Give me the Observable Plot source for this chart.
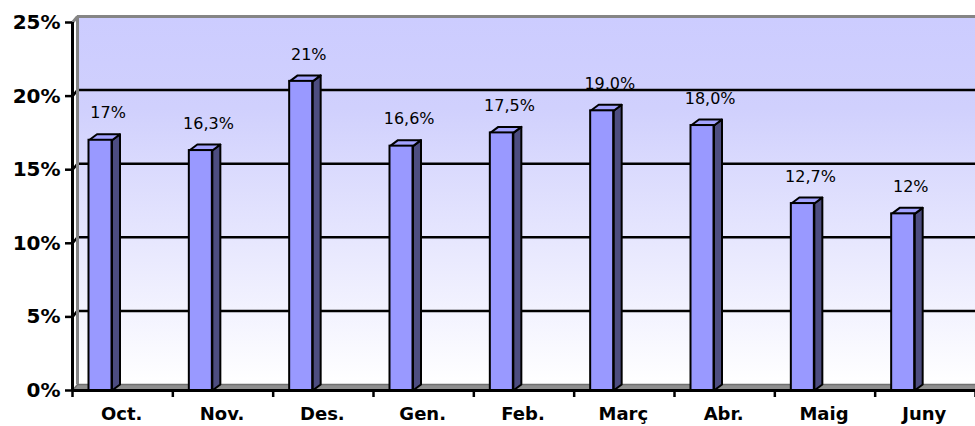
<!DOCTYPE html>
<html><head><meta charset="utf-8">
<script src="https://cdn.jsdelivr.net/npm/d3@7"></script>
<script src="https://cdn.jsdelivr.net/npm/@observablehq/plot@0.6"></script>
<style>body{margin:0;background:#fff}</style>
</head><body><div id="chart"></div>
<script>
const months = ["Oct.", "Nov.", "Des.", "Gen.", "Feb.", "Març", "Abr.", "Maig", "Juny"];
const values = [17, 16.3, 21, 16.6, 17.5, 19.0, 18.0, 12.7, 12];
const valueLabels = ["17%", "16,3%", "21%", "16,6%", "17,5%", "19,0%", "18,0%", "12,7%", "12%"];
const yTicks = [0, 5, 10, 15, 20, 25];
const gridTicks = [5, 10, 15, 20];

const W = 975, H = 426, mL = 72, mR = 0, mT = 22, mB = 36;
const n = months.length;
const ux = n / (W - mL - mR), uy = 25 / (H - mT - mB);
const wallDX = 5 * ux, wallDY = 6 * uy;
const barOff = 16.5 * ux, barW = 23 * ux, depX = 8 * ux, depY = 6 * uy;

const bars = values.map((v, i) => ({i, v, x0: i + barOff, x1: i + barOff + barW}));
const poly = (id, pts) => pts.concat([pts[0]]).map(([x, y]) => ({id, x, y}));
const sidePts = bars.flatMap(b => poly(b.i, [[b.x1, 0], [b.x1, b.v], [b.x1 + depX, b.v + depY], [b.x1 + depX, depY]]));
const topPts = bars.flatMap(b => poly(b.i, [[b.x0, b.v], [b.x1, b.v], [b.x1 + depX, b.v + depY], [b.x0 + depX, b.v + depY]]));
const floorPts = poly(0, [[0, 0], [n, 0], [n + wallDX, wallDY], [wallDX, wallDY]]);

const chart = Plot.plot({
  width: W, height: H,
  marginLeft: mL, marginRight: mR, marginTop: mT, marginBottom: mB,
  x: {type: "linear", domain: [0, n], axis: null},
  y: {domain: [0, 25], axis: null},
  style: {fontFamily: "DejaVu Sans", background: "white", overflow: "visible", color: "black"},
  marks: [
    // back wall
    Plot.rect([0], {x1: 0, x2: n, y1: 0, y2: 25, dx: 5, dy: -6, fill: "url(#wallGrad)"}),
    // floor
    Plot.line(floorPts, {x: "x", y: "y", z: "id", fill: "#8f8f8f", stroke: "#707070", strokeWidth: 1.5}),
    // gridlines on wall
    Plot.ruleY(gridTicks, {x1: 0, x2: n, dx: 5, dy: -6, stroke: "black", strokeWidth: 2.5}),
    Plot.link(gridTicks, {x1: 0, y1: d => d, x2: wallDX, y2: d => d + wallDY, stroke: "black", strokeWidth: 2.5}),
    // wall border
    Plot.ruleY([25], {x1: 0, x2: n, dx: 5, dy: -6, stroke: "#858585", strokeWidth: 3}),
    Plot.ruleX([0], {y1: 0, y2: 25, dx: 5, dy: -6, stroke: "#858585", strokeWidth: 3}),
    Plot.link([25], {x1: 0, y1: d => d, x2: wallDX, y2: d => d + wallDY, stroke: "#858585", strokeWidth: 3}),
    // bars: side, top, front
    Plot.line(sidePts, {x: "x", y: "y", z: "id", fill: "#4d4d80", stroke: "black", strokeWidth: 2, strokeLinejoin: "round"}),
    Plot.line(topPts, {x: "x", y: "y", z: "id", fill: "#a3a3ff", stroke: "black", strokeWidth: 2, strokeLinejoin: "round"}),
    Plot.rect(bars, {x1: "x0", x2: "x1", y1: 0, y2: "v", fill: "#9999ff", stroke: "black", strokeWidth: 2}),
    // axes
    Plot.ruleX([0], {y1: 0, y2: 25, stroke: "black", strokeWidth: 3}),
    Plot.ruleY([0], {x1: 0, x2: n, stroke: "black", strokeWidth: 3}),
    Plot.ruleY(yTicks, {x1: 0, x2: -7 * ux, stroke: "black", strokeWidth: 2.5}),
    Plot.ruleX(d3.range(n + 1), {y1: 0, y2: -7 * uy, stroke: "black", strokeWidth: 2.5}),
    Plot.text(yTicks, {x: 0, y: d => d, text: d => d + "%", dx: -12, textAnchor: "end", fontWeight: "bold", fontSize: 20}),
    Plot.text(months, {x: (d, i) => i + 0.49, y: 0, text: d => d, dy: 24, fontWeight: "bold", fontSize: 18}),
    // value labels
    Plot.text(values, {x: (d, i) => i + 0.355, y: d => d, text: (d, i) => valueLabels[i], dy: -27, fontSize: 16})
  ]
});

const defs = d3.select(chart).insert("defs", ":first-child");
const grad = defs.append("linearGradient").attr("id", "wallGrad")
  .attr("x1", 0).attr("y1", 0).attr("x2", 0).attr("y2", 1);
grad.append("stop").attr("offset", "0%").attr("stop-color", "#ccccff");
grad.append("stop").attr("offset", "25%").attr("stop-color", "#d0d0fd");
grad.append("stop").attr("offset", "100%").attr("stop-color", "#ffffff");

document.getElementById("chart").appendChild(chart);
</script>
</body></html>
